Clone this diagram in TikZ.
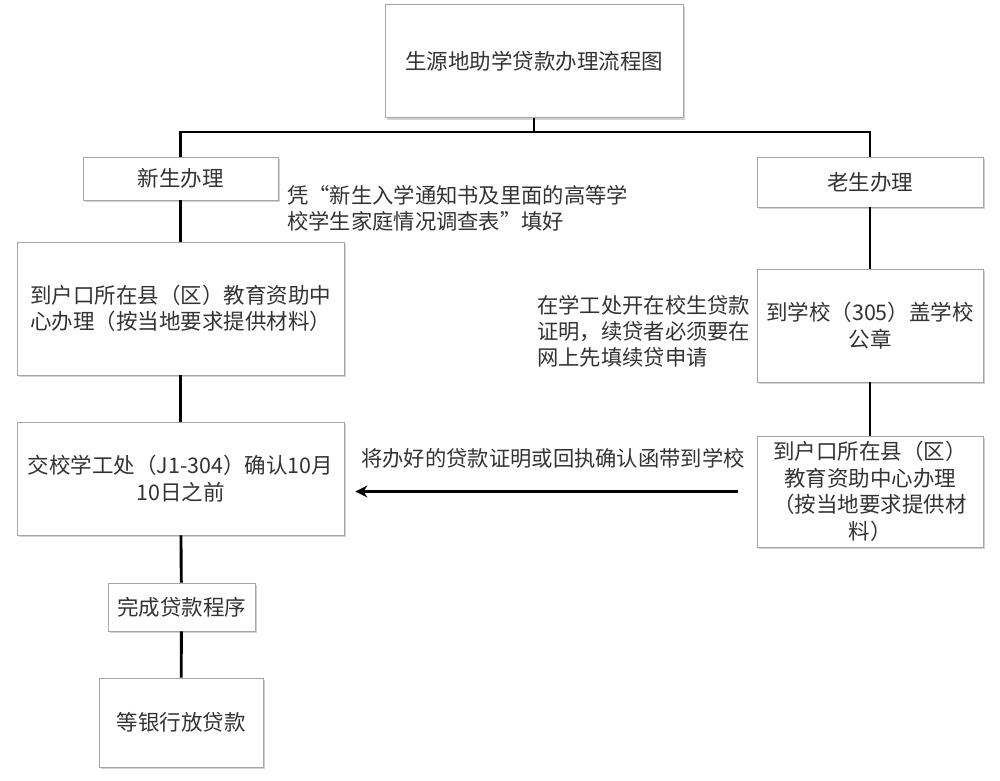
\documentclass[tikz,border=0pt]{standalone}
\usepackage{fontspec}
\setmainfont{Noto Sans CJK SC}
\usetikzlibrary{shadows,arrows.meta}
\begin{document}
\begin{tikzpicture}[x=1pt,y=-1pt,
  box/.style={draw=black!35, line width=0.8pt, fill=white, inner sep=0pt,
    align=center, text=black!80, font=\fontsize{21.5}{26.5}\selectfont,
    drop shadow={opacity=0.35, shadow xshift=1.5pt, shadow yshift=-2pt}},
  note/.style={align=left, anchor=west, text=black!80, inner sep=0pt,
    font=\fontsize{21.3}{26}\selectfont},
  link/.style={line width=2.9pt, draw=black}]
\useasboundingbox (0,0) rectangle (1000,780);
\fill[white] (0,0) rectangle (1000,780);

\node[box, minimum width=298, minimum height=113] (title) at (534,61) {生源地助学贷款办理流程图};
\node[box, minimum width=195, minimum height=43] (new) at (180.5,178.5) {新生办理};
\node[box, minimum width=226, minimum height=50] (old) at (870,182) {老生办理};
\node[box, minimum width=327, minimum height=133] (hk) at (180.5,308.5) {到户口所在县（区）教育资助中\\心办理（按当地要求提供材料）};
\node[box, minimum width=327, minimum height=113] (jx) at (180.5,478.5) {交校学工处（J1-304）确认10月\\10日之前};
\node[box, minimum width=147, minimum height=48] (wc) at (181.5,607) {完成贷款程序};
\node[box, minimum width=164, minimum height=89] (bank) at (181,722.5) {等银行放贷款};
\node[box, minimum width=226, minimum height=113] (school) at (870,325.5) {到学校（305）盖学校\\公章};
\node[box, minimum width=226, minimum height=111] (rhk) at (870,491.5) {到户口所在县（区）\\教育资助中心办理\\（按当地要求提供材\\料）};

\node[note] (n1) at (287,208) {凭“新生入学通知书及里面的高等学\\校学生家庭情况调查表”填好};
\node[note] (n2) at (537,331) {在学工处开在校生贷款\\证明，续贷者必须要在\\网上先填续贷申请};
\node[text=black!80, inner sep=0pt, font=\fontsize{21.3}{26}\selectfont] (n3) at (553,458) {将办好的贷款证明或回执确认函带到学校};

\coordinate (bus) at (534,132);
\draw[link] (title.south) -- (bus);
\draw[link] (new.north) |- (bus) -| (old.north);
\draw[link] (new) -- (hk);
\draw[link] (hk) -- (jx);
\draw[link] (jx) -- (wc);
\draw[link] (wc) -- (bank);
\draw[link] (old) -- (school);
\draw[link] (school) -- (rhk);
\draw[link, -{Stealth[length=12pt,width=12pt,inset=4pt]}, shorten <=19pt, shorten >=11pt] (rhk.west) -- (rhk.west -| jx.east);
\end{tikzpicture}
\end{document}
